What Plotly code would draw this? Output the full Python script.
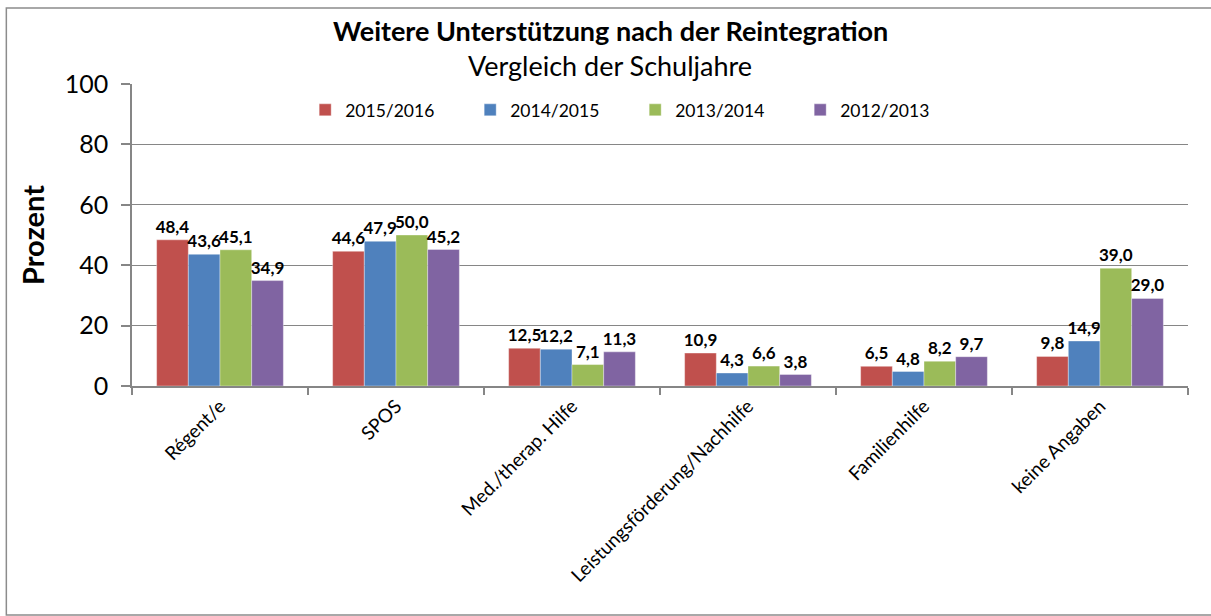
import plotly.graph_objects as go

# Kategorien und Anteile (in Prozent) je Schuljahr
categories = ["Régent/e", "SPOS", "Med./therap. Hilfe",
              "Leistungsförderung/Nachhilfe", "Familienhilfe", "keine Angaben"]
years = ["2015/2016", "2014/2015", "2013/2014", "2012/2013"]
v_2015_2016 = [48.4, 44.6, 12.5, 10.9, 6.5, 9.8]
v_2014_2015 = [43.6, 47.9, 12.2, 4.3, 4.8, 14.9]
v_2013_2014 = [45.1, 50.0, 7.1, 6.6, 8.2, 39.0]
v_2012_2013 = [34.9, 45.2, 11.3, 3.8, 9.7, 29.0]
y_ticks = [0, 20, 40, 60, 80, 100]

series = [v_2015_2016, v_2014_2015, v_2013_2014, v_2012_2013]
colors = ["#C0504D", "#4F81BD", "#9BBB59", "#8064A2"]

FONT = "Lato"
GRID = "#868686"

fig = go.Figure()
for name, vals, col in zip(years, series, colors):
    fig.add_trace(go.Bar(
        x=categories, y=vals, name=name,
        marker=dict(color=col, line=dict(color="rgba(255,255,255,0.6)", width=0.6)),
        texttemplate="%{y:.1f}", textposition="outside",
        constraintext="none", cliponaxis=False,
        textfont=dict(family=FONT, size=17, color="black", weight="bold"),
    ))

fig.update_layout(
    width=1211, height=616,
    margin=dict(l=132, r=23, t=84, b=230),
    paper_bgcolor="white", plot_bgcolor="white",
    separators=",.",
    barmode="group", bargap=0.28, bargroupgap=0,
    font=dict(family=FONT, color="black"),
    showlegend=True,
    legend=dict(
        orientation="h", x=0.164, y=0.914, xanchor="left", yanchor="middle",
        entrywidth=120, entrywidthmode="pixels",
        font=dict(family=FONT, size=17.5), bgcolor="rgba(0,0,0,0)",
        itemclick=False,
    ),
    xaxis=dict(
        type="category", tickangle=-45, tickson="boundaries",
        ticks="outside", ticklen=7, tickcolor=GRID, tickwidth=1.5,
        showline=True, linecolor=GRID, linewidth=1.5,
        tickfont=dict(family=FONT, size=19), showgrid=False,
    ),
    yaxis=dict(
        range=[0, 100], tickvals=y_ticks, showgrid=True,
        gridcolor=GRID, gridwidth=1.3,
        ticks="outside", ticklen=9, tickcolor=GRID, tickwidth=1.5,
        ticklabelstandoff=8,
        showline=True, linecolor=GRID, linewidth=1.5,
        tickfont=dict(family=FONT, size=25),
        title=dict(text="<b>Prozent</b>", font=dict(family=FONT, size=29), standoff=12),
        zeroline=False,
    ),
)

# Diagrammtitel (zweizeilig)
fig.add_annotation(text="<b>Weitere Unterstützung nach der Reintegration</b>",
                   xref="paper", yref="paper", x=0.4527, y=1.178,
                   xanchor="center", yanchor="middle", showarrow=False,
                   font=dict(family=FONT, size=27))
fig.add_annotation(text="Vergleich der Schuljahre",
                   xref="paper", yref="paper", x=0.4527, y=1.06,
                   xanchor="center", yanchor="middle", showarrow=False,
                   font=dict(family=FONT, size=27))

# Rahmen um das gesamte Diagramm
fig.add_shape(type="rect", xref="paper", yref="paper",
              x0=-0.119, x1=1.05, y0=-0.758, y1=1.252,
              line=dict(color="#8C8C8C", width=1.5), layer="below")

fig.write_html("out.html")
